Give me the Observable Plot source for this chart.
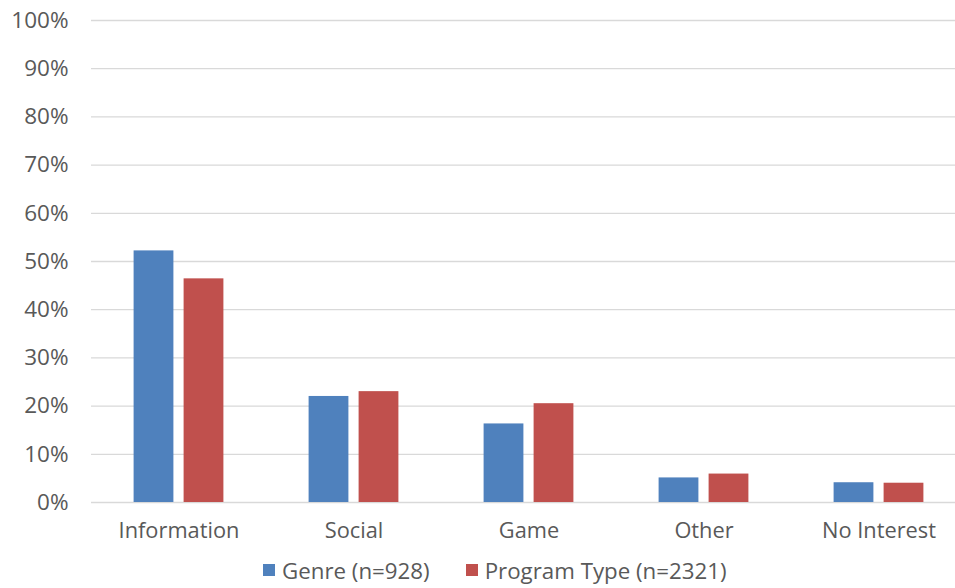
<!DOCTYPE html>
<html>
<head>
<meta charset="utf-8">
<script src="https://cdn.jsdelivr.net/npm/d3@7"></script>
<script src="https://cdn.jsdelivr.net/npm/@observablehq/plot@0.6"></script>
<style>
  html, body { margin: 0; padding: 0; background: #fff; overflow: hidden; }
  body { width: 955px; height: 588px; font-family: "Open Sans", "Noto Sans", sans-serif; }
  #legend { display: flex; align-items: center; height: 36px; margin-left: 263px; color: #595959; font-size: 22.3px; }
  .item { display: flex; align-items: center; margin-right: 36px; }
  .swatch { width: 12px; height: 12px; margin-right: 7px; }
  #chart svg g[aria-label="x-axis tick label"] text { font-size: 21.8px; }
</style>
</head>
<body>
<div id="chart"></div>
<div id="legend"></div>
<script>
// Share of respondents by interest category
const categories = ["Information", "Social", "Game", "Other", "No Interest"];
const seriesNames = ["Genre (n=928)", "Program Type (n=2321)"];
const genre = [52.2, 22.0, 16.3, 5.1, 4.1];
const programType = [46.4, 23.0, 20.5, 5.9, 4.0];
const yTicks = [0, 10, 20, 30, 40, 50, 60, 70, 80, 90, 100];
const colors = ["#4f81bd", "#c0504d"];

const genreRows = categories.map((c, i) => ({category: c, value: genre[i]}));
const programRows = categories.map((c, i) => ({category: c, value: programType[i]}));

const barWidth = 39.8;
const step = 175;
const inset = (step - barWidth) / 2;

const plot = Plot.plot({
  width: 955,
  height: 552,
  marginLeft: 91,
  marginRight: -11,
  marginTop: 20,
  marginBottom: 50,
  style: {fontFamily: "'Open Sans', 'Noto Sans', sans-serif", fontSize: "22.5px", color: "#595959", background: "#fff"},
  x: {domain: categories, padding: 0, label: null, tickSize: 0, tickPadding: 20},
  y: {domain: [0, 100], ticks: yTicks, tickFormat: d => d + "%", label: null, tickSize: 0, tickPadding: 23},
  marks: [
    Plot.ruleY(yTicks, {stroke: "#d9d9d9", strokeWidth: 1.3}),
    Plot.barY(genreRows, {x: "category", y: "value", fill: colors[0], insetLeft: inset, insetRight: inset, dx: -25}),
    Plot.barY(programRows, {x: "category", y: "value", fill: colors[1], insetLeft: inset, insetRight: inset, dx: 25})
  ]
});
document.getElementById("chart").appendChild(plot);

const legend = document.getElementById("legend");
seriesNames.forEach((name, i) => {
  const item = document.createElement("div");
  item.className = "item";
  const sw = document.createElement("span");
  sw.className = "swatch";
  sw.style.background = colors[i];
  const label = document.createElement("span");
  label.textContent = name;
  item.appendChild(sw);
  item.appendChild(label);
  legend.appendChild(item);
});
</script>
</body>
</html>
